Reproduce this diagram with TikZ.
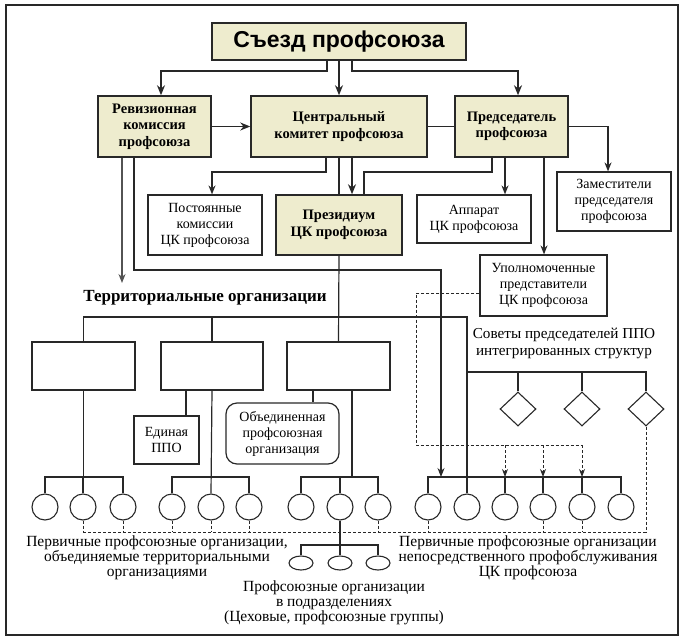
\documentclass[tikz,border=0pt]{standalone}
\usepackage{fontspec}
\setmainfont{Liberation Serif}
\newfontfamily\sansb{Liberation Sans}
\usetikzlibrary{arrows.meta,shapes.geometric}
\definecolor{beige}{RGB}{238,236,206}
\definecolor{ln}{RGB}{40,40,40}
\begin{document}
\begin{tikzpicture}[x=1pt,y=-1pt,
  bbox/.style={draw=ln, line width=1.5pt, fill=beige, align=center, inner sep=0pt, font=\fontsize{14.5}{16.5}\selectfont\bfseries},
  wbox/.style={draw=ln, line width=1.2pt, fill=white, align=center, inner sep=0pt, font=\fontsize{14}{16}\selectfont},
  circ/.style={circle, draw=ln, line width=1.1pt, minimum size=26pt, inner sep=0pt},
  ell/.style={ellipse, draw=ln, line width=1.1pt, minimum width=24pt, minimum height=14pt, inner sep=0pt},
  dia/.style={diamond, draw=ln, line width=1.1pt, minimum width=36pt, minimum height=34pt, inner sep=0pt},
  arrA/.style={draw=ln, line width=1.8pt, -{Stealth[length=10pt,width=8pt]}},
  arrB/.style={draw=ln, line width=1.4pt, -{Stealth[length=9pt,width=7pt]}},
  thin/.style={draw=ln, line width=1.2pt},
  dsh/.style={draw=ln, line width=1pt, dash pattern=on 3pt off 2pt},
  dsharr/.style={dsh, -{Stealth[length=8pt,width=6pt]}},
  lbl/.style={align=center, inner sep=0pt, font=\fontsize{15.5}{14.8}\selectfont},
]
\useasboundingbox (0,0) rectangle (690,640);
\draw[line width=1.2pt, ln] (6,5) rectangle (678,635);

% main boxes
\node[bbox, minimum width=254pt, minimum height=37pt, font=\sansb\bfseries\fontsize{23}{26}\selectfont] (sez) at (339,41.5) {Съезд профсоюза};
\node[bbox, minimum width=113pt, minimum height=61pt] (rev) at (154.5,126.5) {Ревизионная\\комиссия\\профсоюза};
\node[bbox, minimum width=176pt, minimum height=61pt] (ck) at (339,126.5) {Центральный\\комитет профсоюза};
\node[bbox, minimum width=113pt, minimum height=61pt] (pred) at (511.5,126.5) {Председатель\\профсоюза};
\node[wbox, minimum width=114pt, minimum height=59pt] (zam) at (614,201.5) {Заместители\\председателя\\профсоюза};
\node[wbox, minimum width=114pt, minimum height=60pt] (post) at (205,225) {Постоянные\\комиссии\\ЦК профсоюза};
\node[bbox, minimum width=126pt, minimum height=60pt] (prez) at (339,225) {Президиум\\ЦК профсоюза};
\node[wbox, minimum width=114pt, minimum height=48pt] (app) at (474,219) {Аппарат\\ЦК профсоюза};
\node[wbox, minimum width=127pt, minimum height=61pt] (upol) at (543.5,285.5) {Уполномоченные\\представители\\ЦК профсоюза};

% territorial
\node[inner sep=0pt, font=\fontsize{17}{18}\selectfont\bfseries] (terr) at (205,298) {Территориальные организации};
\node[wbox, minimum width=103pt, minimum height=48pt] (t1) at (83.5,366) {};
\node[wbox, minimum width=102pt, minimum height=48pt] (t2) at (212,366) {};
\node[wbox, minimum width=103pt, minimum height=48pt] (t3) at (338.5,366) {};
\node[wbox, minimum width=65pt, minimum height=48pt] (ed) at (166.5,440) {Единая\\ППО};
\node[wbox, rounded corners=11pt, minimum width=113pt, minimum height=61pt] (ob) at (282.5,433.5) {Объединенная\\профсоюзная\\организация};

\node[align=center, inner sep=0pt, font=\fontsize{15.2}{17}\selectfont] (sov) at (564,343.5) {Советы председателей ППО\\интегрированных структур};

% diamonds
\node[dia] (d1) at (518,409) {};
\node[dia] (d2) at (582,409) {};
\node[dia] (d3) at (646,409) {};

% circles
\foreach \n/\x in {1/45,2/83,3/123,4/172,5/211,6/249,7/301,8/340,9/378,10/428,11/467,12/505,13/543,14/582,15/621}
  \node[circ] (c\n) at (\x,507) {};
\node[ell] (e1) at (301,563) {};
\node[ell] (e2) at (340,563) {};
\node[ell] (e3) at (378,563) {};

% labels
\node[lbl] (lblL) at (157,558) {Первичные профсоюзные организации,\\объединяемые территориальными\\организациями};
\node[lbl] (lblR) at (528,558) {Первичные профсоюзные организации\\непосредственного профобслуживания\\ЦК профсоюза};
\node[lbl] (lblB) at (334,603) {Профсоюзные организации\\в подразделениях\\(Цеховые, профсоюзные группы)};

% coordinates
\coordinate (terrTip) at (122,283);
\coordinate (tbar) at (467,317);
\coordinate (dbar) at (467,372);
\coordinate (dl) at (416,445);
\coordinate (gbar) at (0,477);
\coordinate (dbot) at (83,532);
\coordinate (ebar) at (0,545);

% top connectors
\draw[arrA] (327,0 |- sez.south) |- (161,71) -- (161,0 |- rev.north);
\draw[arrA] (sez.south) -- (ck.north);
\draw[arrA] (352,0 |- sez.south) |- (518,71) -- (518,0 |- pred.north);
\draw[arrA] (rev.east) -- (ck.west);
\draw[thin, line width=1.4pt] (ck.east) -- (pred.west);
\draw[arrB] (pred.east) -| ([xshift=-6pt]zam.north);
\draw[arrB] (326,0 |- ck.south) |- (212,172) -- (212,0 |- post.north);
\draw[thin] (ck.south) -- (prez.north);
\draw[arrA] (352,0 |- ck.south) -- (352,0 |- prez.north);
\draw[thin] (492,0 |- pred.south) |- (364,172) -- (364,0 |- prez.north);
\draw[arrB] (505,0 |- pred.south) -- (505,0 |- app.north);
\draw[arrB] (544,0 |- pred.south) -- (544,0 |- upol.north);

% revision lines
\draw[arrB, draw=ln!80] (122,0 |- rev.south) -- (terrTip);
\draw[thin, -{Stealth[length=9pt,width=7pt]}] (134,0 |- rev.south) |- (441,270) -- (441,0 |- gbar);

% territorial tree
\draw[thin] (prez.south) -- (t3.north);
\draw[thin] (t1.north) |- (tbar) -- (c11.north);
\draw[thin] (t2.north) -- (t2.north |- tbar);
\draw[thin] (dbar) -| (d3.north);
\draw[thin] (d1.north) -- (d1.north |- dbar);
\draw[thin] (d2.north) -- (d2.north |- dbar);

% sub boxes
\draw[thin] (186,0 |- t2.south) -- (186,0 |- ed.north);
\draw[thin] (313,0 |- t3.south) -- (313,0 |- ob.north);

% circle groups
\draw[thin] (t1.south) -- (t1.south |- gbar);
\draw[thin] (c1.north) |- (c3.north |- gbar) -- (c3.north);
\draw[thin] (c2.north) -- (c2.north |- gbar);
\draw[thin] (t2.south) -- (c5.north);
\draw[thin] (c4.north) |- (c6.north |- gbar) -- (c6.north);
\draw[thin] (352,0 |- t3.south) -- (352,0 |- gbar);
\draw[thin] (c7.north) |- (c9.north |- gbar) -- (c9.north);
\draw[thin] (c8.north) -- (c8.north |- gbar);
\draw[thin] (c10.north) |- (c15.north |- gbar) -- (c15.north);
\foreach \n in {12,13,14} \draw[thin] (c\n.north) -- (c\n.north |- gbar);

% ellipses
\draw[thin] (c8.south) -- (c8.south |- ebar);
\draw[thin] (e1.north) |- (e3.north |- ebar) -- (e3.north);
\draw[thin] (e2.north) -- (e2.north |- ebar);

% dashed
\draw[dsh] ([yshift=-7.5pt]upol.west) -| (dl) -- (582,445);
\foreach \x in {505,543,582} \draw[dsharr] (\x,445) -- (\x,0 |- gbar);
\draw[dsh] (dbot) -- (646,532);
\foreach \n in {2,3,4,5,6,9,10,13,14} \draw[dsh] (c\n.south) -- (c\n.south |- dbot);
\draw[dsh] (d3.south) -- (d3.south |- dbot);
\end{tikzpicture}
\end{document}
